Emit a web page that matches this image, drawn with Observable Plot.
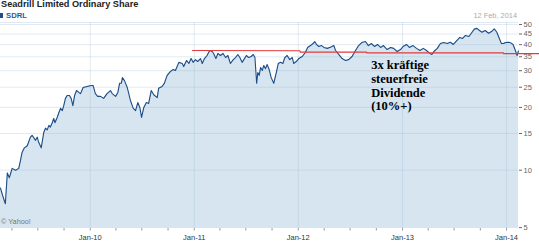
<!DOCTYPE html>
<html><head><meta charset="utf-8">
<script src="https://cdn.jsdelivr.net/npm/d3@7"></script>
<script src="https://cdn.jsdelivr.net/npm/@observablehq/plot@0.6"></script>
<style>
html,body{margin:0;padding:0;background:#fff;}
#wrap{position:relative;width:539px;height:242px;overflow:hidden;font-family:"Liberation Sans",Arial,sans-serif;}
#head{position:relative;height:21px;}
.t{position:absolute;line-height:1;white-space:nowrap;}
#chart svg{display:block;overflow:visible;}
</style></head><body>
<div id="wrap">
<div id="head">
 <div class="t" id="title" style="left:1px;top:0px;font-size:9.2px;font-weight:bold;color:#222"></div>
 <div style="position:absolute;left:0;top:13.3px;width:2.5px;height:5px;background:#1f4e8c"></div>
 <div class="t" id="ticker" style="left:6px;top:11.8px;font-size:7.7px;font-weight:bold;color:#2b5d95"></div>
 <div class="t" id="asof" style="right:22px;top:12px;font-size:7.4px;color:#aaa"></div>
</div>
<div id="chart"></div>
<div class="t" id="credit" style="left:1px;top:218.3px;font-size:7.3px;color:#777"></div>
</div>
<script>
const titleText = "Seadrill Limited Ordinary Share";
const tickerText = "SDRL";
const asOfText = "12 Feb, 2014";
const creditText = "© Yahoo!";

const dates = ["2009-02-20","2009-02-27","2009-03-09","2009-03-16","2009-03-23","2009-04-02","2009-04-14","2009-04-25","2009-05-01","2009-05-07","2009-05-15","2009-05-25","2009-06-05","2009-06-11","2009-06-23","2009-06-29","2009-07-04","2009-07-13","2009-07-22","2009-07-28","2009-08-03","2009-08-09","2009-08-14","2009-08-20","2009-08-26","2009-08-30","2009-09-07","2009-09-13","2009-09-19","2009-09-25","2009-09-30","2009-10-06","2009-10-12","2009-10-20","2009-10-26","2009-11-01","2009-11-07","2009-11-14","2009-11-22","2009-11-28","2009-12-07","2009-12-21",
"2010-01-04","2010-01-11","2010-01-19","2010-01-27","2010-02-06","2010-02-17","2010-03-01","2010-03-13","2010-03-19","2010-03-31","2010-04-08","2010-04-14","2010-04-20","2010-04-24","2010-05-01","2010-05-11","2010-05-22","2010-06-01","2010-06-09","2010-06-17","2010-06-24","2010-06-30","2010-07-08","2010-07-17","2010-07-25","2010-08-03","2010-08-12","2010-08-24","2010-08-29","2010-09-10","2010-09-18","2010-09-28","2010-10-09","2010-10-19","2010-10-27","2010-11-08","2010-11-20","2010-11-25","2010-12-05","2010-12-13","2010-12-21","2010-12-28",
"2011-01-05","2011-01-13","2011-01-23","2011-01-29","2011-02-06","2011-02-15","2011-02-24","2011-03-05","2011-03-10","2011-03-18","2011-03-25","2011-04-03","2011-04-12","2011-04-21","2011-04-29","2011-05-08","2011-05-18","2011-05-26","2011-06-03","2011-06-10","2011-06-18","2011-06-24","2011-07-03","2011-07-11","2011-07-20","2011-07-27","2011-08-02","2011-08-08","2011-08-12","2011-08-17","2011-08-22","2011-08-28","2011-09-02","2011-09-08","2011-09-14","2011-09-21","2011-09-28","2011-10-07","2011-10-16","2011-10-23","2011-10-31","2011-11-08","2011-11-15","2011-11-23","2011-12-02","2011-12-11","2011-12-16","2011-12-25",
"2012-01-03","2012-01-15","2012-01-26","2012-02-03","2012-02-13","2012-02-22","2012-02-28","2012-03-05","2012-03-13","2012-03-23","2012-03-31","2012-04-12","2012-04-23","2012-05-05","2012-05-11","2012-05-22","2012-06-03","2012-06-15","2012-06-26","2012-07-08","2012-07-20","2012-07-31","2012-08-12","2012-08-24","2012-09-03","2012-09-14","2012-09-25","2012-10-05","2012-10-16","2012-10-26","2012-11-08","2012-11-20","2012-12-01","2012-12-13","2012-12-25",
"2013-01-03","2013-01-15","2013-01-25","2013-02-07","2013-02-19","2013-03-03","2013-03-15","2013-03-26","2013-04-07","2013-04-14","2013-04-21","2013-05-03","2013-05-14","2013-05-26","2013-06-07","2013-06-18","2013-06-28","2013-07-09","2013-07-21","2013-07-30","2013-08-10","2013-08-22","2013-09-02","2013-09-10","2013-09-19","2013-09-28","2013-10-07","2013-10-18","2013-10-30","2013-11-11","2013-11-19","2013-11-28","2013-12-07","2013-12-14","2013-12-22","2013-12-28",
"2014-01-09","2014-01-17","2014-01-24","2014-02-01","2014-02-07","2014-02-12"];

const prices = [8.2,7.6,6.9,9.7,9.2,10.2,10.0,10.2,11.1,12.2,12.8,13.1,14.4,14.7,13.9,14.4,13.6,12.8,15.2,15.9,15.6,16.4,16.1,16.8,17.7,16.9,17.9,18.9,19.8,19.3,20.4,22.1,22.8,22.8,22.1,20.4,22.8,24.1,23.6,23.3,24.9,25.2,
25.5,25.5,23.3,22.6,22.6,22.1,23.3,24.1,23.3,22.6,23.6,26.1,26.1,27.8,26.9,24.9,21.6,19.8,19.3,21.1,20.0,17.9,20.0,21.1,20.9,24.1,23.0,22.3,24.7,25.2,26.1,28.5,29.7,30.4,30.1,32.9,32.5,31.4,33.6,32.5,34.3,32.9,
33.9,33.2,34.3,32.5,34.3,35.5,37.5,37.1,36.3,34.3,36.3,35.5,36.3,34.7,35.5,32.5,33.9,34.7,35.9,34.7,32.9,33.9,35.5,34.7,35.1,35.9,34.7,26.1,29.4,28.5,31.1,30.1,31.8,30.7,32.1,30.4,27.8,26.1,29.4,32.5,32.9,32.5,34.7,35.5,33.9,34.7,32.5,33.2,
34.3,35.1,36.7,38.8,39.6,40.5,41.4,40.1,39.2,39.6,38.8,38.4,38.9,39.6,37.5,35.9,34.3,33.6,33.9,35.1,37.5,39.6,41.0,41.4,39.6,40.5,39.2,40.1,38.8,39.6,37.9,38.8,38.4,37.1,37.9,
39.2,40.1,38.8,39.6,38.4,37.5,38.4,37.5,36.3,35.9,37.1,38.4,40.5,41.0,40.5,41.1,40.1,41.6,43.3,42.8,44.3,43.8,45.9,47.5,47.9,46.8,45.9,46.8,45.4,46.4,47.6,45.9,42.7,40.5,40.5,41.0,
41.1,40.7,40.1,37.5,35.5,37.3];

// hand-drawn resistance line (red)
const resistanceDates = ["2010-12-26","2012-01-07","2012-01-08","2012-08-28","2012-08-29","2013-12-21","2013-12-22","2014-04-26"];
const resistanceValues = [37.5,37.4,36.8,36.8,36.5,36.5,36.2,36.2];

const noteLines = ["3x kräftige","steuerfreie","Dividende","(10%+)"];
const noteDate = "2012-09-13";
const noteValue = 34.0;

const xDomain = ["2009-02-20","2014-02-12"];
const yDomain = [5.25, 51.1];
const yearTickDates = ["2010-01-01","2011-01-01","2012-01-01","2013-01-01","2014-01-01"];
const yearTickLabels = ["Jan-10","Jan-11","Jan-12","Jan-13","Jan-14"];
const quarterTickDates = ["2009-04-01","2009-07-01","2009-10-01","2010-01-01","2010-04-01","2010-07-01","2010-10-01","2011-01-01","2011-04-01","2011-07-01","2011-10-01","2012-01-01","2012-04-01","2012-07-01","2012-10-01","2013-01-01","2013-04-01","2013-07-01","2013-10-01","2014-01-01"];
const yTickValues = [5.3,10,15,20,25,30,35,40,45,50];
const yTickLabels = ["5","10","15","20","25","30","35","40","45","50"];
const yGridValues = [10,15,20,25,30,35,40,45,50];

document.getElementById("title").textContent = titleText;
document.getElementById("ticker").textContent = tickerText;
document.getElementById("asof").textContent = asOfText;
document.getElementById("credit").textContent = creditText;

const data = dates.map((d,i)=>({date:new Date(d), price:prices[i]}));
const resistance = resistanceDates.map((d,i)=>({date:new Date(d), v:resistanceValues[i]}));
const years = yearTickDates.map(d=>new Date(d));
const quarters = quarterTickDates.map(d=>new Date(d));
const yearLabel = d => yearTickLabels[years.findIndex(y => +y === +d)];
const yLabel = d => yTickLabels[yTickValues.indexOf(+d)];
const gridColor = "#9ab8d4";

const chart = Plot.plot({
  width: 539, height: 221,
  marginLeft: 0, marginRight: 21, marginTop: 1, marginBottom: 14,
  style: {fontFamily: "'Liberation Sans', Arial, sans-serif", fontSize: "7.5px", background: "transparent", overflow: "visible"},
  x: {type: "utc", domain: xDomain.map(d=>new Date(d)), axis: null},
  y: {type: "log", domain: yDomain, axis: null},
  marks: [
    Plot.areaY(data, {x: "date", y1: yDomain[0], y2: "price", fill: "#d6e5f0"}),
    Plot.ruleX(years, {stroke: gridColor, strokeOpacity: 0.3}),
    Plot.ruleY(yGridValues, {stroke: gridColor, strokeOpacity: 0.3}),
    Plot.ruleY([yDomain[1]], {stroke: gridColor, strokeOpacity: 0.3}),
    Plot.lineY(data, {x: "date", y: "price", stroke: "#1b4c86", strokeWidth: 1.1}),
    Plot.axisY(yTickValues, {anchor: "right", tickSize: 3, tickPadding: 2, tickFormat: yLabel, color: "#666", fontSize: 7.5}),
    Plot.axisX(quarters, {anchor: "bottom", tickSize: 2.5, tickFormat: ()=>"", stroke: "#999"}),
    Plot.axisX(years, {anchor: "bottom", tickSize: 0, tickPadding: 6, tickFormat: yearLabel, color: "#333", fontSize: 7.5}),
    Plot.line(resistance, {x: "date", y: "v", stroke: "#e23b3b", strokeWidth: 1.2}),
    Plot.text([noteLines.join("\n")], {x: ()=>new Date(noteDate), y: ()=>noteValue, text: d=>d, textAnchor: "start", lineAnchor: "top", lineHeight: 1.1, fontFamily: "'Liberation Serif', 'Times New Roman', serif", fontWeight: "bold", fontSize: 12.5, fill: "#000"})
  ]
});
document.getElementById("chart").appendChild(chart);
</script>
</body></html>
